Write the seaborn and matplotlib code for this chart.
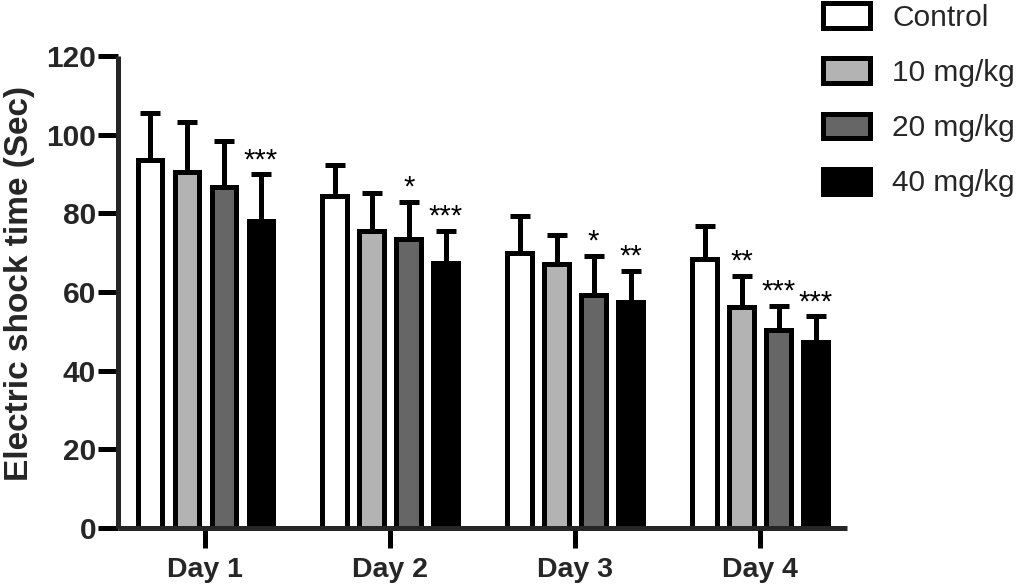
import numpy as np
import pandas as pd
import matplotlib
matplotlib.use("Agg")
import matplotlib.pyplot as plt
from matplotlib.patches import Patch
import seaborn as sns

# ---- data ----
days = ["Day 1", "Day 2", "Day 3", "Day 4"]
groups = ["Control", "10 mg/kg", "20 mg/kg", "40 mg/kg"]
mean_control = [93.6, 84.3, 69.9, 68.4]
mean_10 = [90.5, 75.4, 67.1, 56.2]
mean_20 = [86.7, 73.6, 59.2, 50.4]
mean_40 = [78.1, 67.5, 57.5, 47.2]
sd_control = [12.0, 8.0, 9.3, 8.4]
sd_10 = [12.7, 9.8, 7.5, 7.9]
sd_20 = [11.8, 9.4, 9.9, 6.1]
sd_40 = [11.8, 8.0, 7.8, 6.6]
stars_control = ["", "", "", ""]
stars_10 = ["", "", "", "**"]
stars_20 = ["", "*", "*", "***"]
stars_40 = ["***", "***", "**", "***"]
colors = ["#ffffff", "#b3b3b3", "#666666", "#000000"]
y_ticks = [0, 20, 40, 60, 80, 100, 120]

means = [mean_control, mean_10, mean_20, mean_40]
sds = [sd_control, sd_10, sd_20, sd_40]
stars = [stars_control, stars_10, stars_20, stars_40]

rows = []
for g, m in zip(groups, means):
    for d, v in zip(days, m):
        rows.append({"day": d, "group": g, "time": v})
df = pd.DataFrame(rows)

sns.set_style("ticks")
plt.rcParams["font.family"] = ["Liberation Sans", "DejaVu Sans"]

W, H = 1021, 585
fig = plt.figure(figsize=(W / 100, H / 100), dpi=100)
ax = fig.add_axes([118.3 / W, 1 - 528 / H, (847 - 118.3) / W, (528 - 56) / H])

LW = 3.6
sns.barplot(data=df, x="day", y="time", hue="group", order=days,
            hue_order=groups, palette=colors, edgecolor="black",
            linewidth=LW, errorbar=None, width=0.8, gap=0.34,
            legend=False, ax=ax, zorder=2)

for cont, sd, st in zip(ax.containers, sds, stars):
    xs, hs = [], []
    for p in cont.patches:
        xs.append(p.get_x() + p.get_width() / 2)
        hs.append(p.get_height())
    xs = np.array(xs)
    hs = np.array(hs)
    sd = np.array(sd)
    ax.errorbar(xs, hs, yerr=[np.zeros_like(sd), sd], fmt="none",
                ecolor="black", elinewidth=LW, capsize=7.2,
                capthick=LW, zorder=1, clip_on=False)
    for x, h, s, label in zip(xs, hs, sd, st):
        if label:
            ax.text(x, h + s + 1.6, label, ha="center", va="baseline",
                    fontsize=21, color="black")

ax.set_ylim(0, 120)
ax.set_xlim(-0.47, 3.47)
ax.set_yticks(y_ticks)
ax.set_xlabel("")
ax.set_ylabel("Electric shock time (Sec)", fontsize=24,
              fontweight="bold")
ax.yaxis.set_label_coords((35 - 118.3) / (847 - 118.3), (528 - 283.5) / 472)
for sp in ["top", "right"]:
    ax.spines[sp].set_visible(False)
for sp in ["left", "bottom"]:
    ax.spines[sp].set_linewidth(LW)
    ax.spines[sp].set_capstyle("butt")
ax.tick_params(axis="both", length=14.4, width=LW, color="black")
ax.tick_params(axis="y", pad=1.5, labelsize=21.5)
ax.tick_params(axis="x", pad=6.5, labelsize=20.5)
for lab in ax.get_xticklabels() + ax.get_yticklabels():
    lab.set_fontweight("bold")

handles = [Patch(facecolor=c, edgecolor="black", linewidth=LW, label=g)
           for c, g in zip(colors, groups)]
fig.legend(handles=handles, loc="upper left",
           bbox_to_anchor=(820 / W, 1 - 0 / H), bbox_transform=fig.transFigure,
           frameon=False, fontsize=21.5, handlelength=1.57,
           handleheight=0.9, handletextpad=0.75, labelspacing=0.89,
           borderpad=0.1, borderaxespad=0)

fig.savefig("out.png", dpi=100)
